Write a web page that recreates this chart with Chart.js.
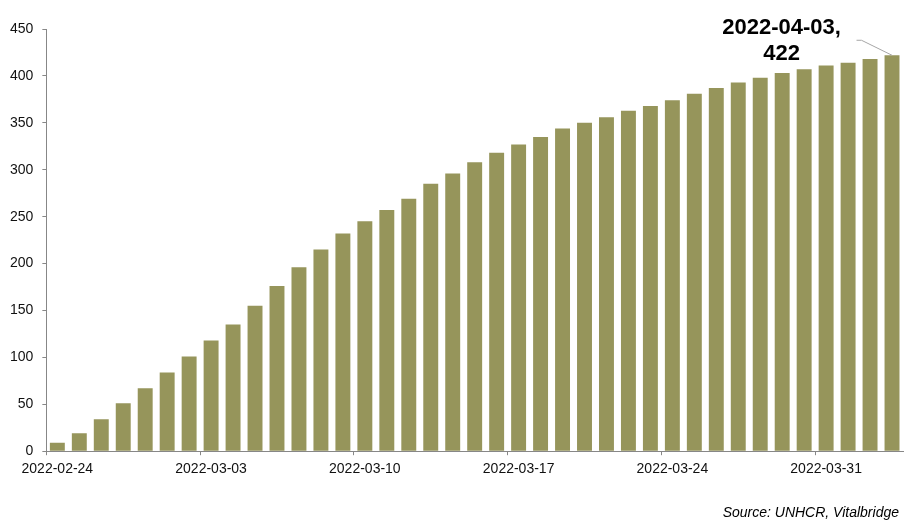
<!DOCTYPE html>
<html>
<head>
<meta charset="utf-8">
<script src="https://cdn.jsdelivr.net/npm/chart.js@4/dist/chart.umd.min.js"></script>
<style>
  html, body { margin: 0; padding: 0; background: #fff; }
  #wrap { width: 924px; height: 532px; position: relative; }
</style>
</head>
<body>
<div id="wrap"><canvas id="c" width="924" height="532"></canvas></div>
<script>
const categories = [
  '2022-02-24','2022-02-25','2022-02-26','2022-02-27','2022-02-28',
  '2022-03-01','2022-03-02','2022-03-03','2022-03-04','2022-03-05','2022-03-06','2022-03-07',
  '2022-03-08','2022-03-09','2022-03-10','2022-03-11','2022-03-12','2022-03-13','2022-03-14',
  '2022-03-15','2022-03-16','2022-03-17','2022-03-18','2022-03-19','2022-03-20','2022-03-21',
  '2022-03-22','2022-03-23','2022-03-24','2022-03-25','2022-03-26','2022-03-27','2022-03-28',
  '2022-03-29','2022-03-30','2022-03-31','2022-04-01','2022-04-02','2022-04-03'
];
const values = [
  9, 19, 34, 51, 67, 84, 101, 118, 135, 155, 176, 196, 215,
  232, 245, 257, 269, 285, 296, 308, 318, 327, 335, 344, 350, 356,
  363, 368, 374, 381, 387, 393, 398, 403, 407, 411, 414, 418, 422
];
const yTicks = [0, 50, 100, 150, 200, 250, 300, 350, 400, 450];
const sourceText = 'Source: UNHCR, Vitalbridge';
const labelEvery = 7;

const FONT = "'Liberation Sans', Arial, sans-serif";
const AXIS = '#878787';

const annotationPlugin = {
  id: 'lastLabel',
  afterDatasetsDraw(chart) {
    const meta = chart.getDatasetMeta(0);
    const last = meta.data[values.length - 1];
    const x = last.x, y = last.y;
    const ctx = chart.ctx;
    ctx.save();
    ctx.strokeStyle = '#a6a6a6';
    ctx.lineWidth = 1;
    ctx.beginPath();
    ctx.moveTo(x - 35.5, y - 15);
    ctx.lineTo(x - 30.5, y - 15);
    ctx.lineTo(x, y);
    ctx.stroke();
    ctx.fillStyle = '#000';
    ctx.font = "bold 22px " + FONT;
    ctx.textAlign = 'center';
    ctx.textBaseline = 'middle';
    const lab = categories[values.length - 1] + ',';
    ctx.fillText(lab, x - 110.5, y - 27);
    ctx.fillText(String(values[values.length - 1]), x - 110.5, y - 1);
    ctx.restore();
  },
  afterDraw(chart) {
    const ctx = chart.ctx;
    ctx.save();
    ctx.fillStyle = '#000';
    ctx.font = "italic 14px " + FONT;
    ctx.textAlign = 'right';
    ctx.textBaseline = 'middle';
    ctx.fillText(sourceText, 899, 513);
    ctx.restore();
  }
};

new Chart(document.getElementById('c'), {
  type: 'bar',
  data: {
    labels: categories,
    datasets: [{
      data: values,
      backgroundColor: '#96955B',
      borderWidth: 0,
      barPercentage: 0.68,
      categoryPercentage: 1.0
    }]
  },
  options: {
    responsive: false,
    animation: false,
    devicePixelRatio: 1,
    layout: { padding: { left: 1, right: 21, top: 29, bottom: 48 } },
    plugins: {
      legend: { display: false },
      tooltip: { enabled: false },
      title: { display: false }
    },
    scales: {
      x: {
        offset: true,
        grid: {
          offset: true,
          drawOnChartArea: false,
          drawTicks: true,
          tickLength: 4,
          color: (c) => (c.index !== undefined && c.index % labelEvery === 0) ? AXIS : 'rgba(0,0,0,0)'
        },
        border: { display: true, color: AXIS, width: 1 },
        ticks: {
          autoSkip: false,
          maxRotation: 0,
          minRotation: 0,
          padding: 6,
          color: '#111',
          font: { family: FONT, size: 14 },
          callback: (v, i) => (i % labelEvery === 0 ? categories[i] : '')
        }
      },
      y: {
        min: yTicks[0],
        max: yTicks[yTicks.length - 1],
        afterBuildTicks: (axis) => { axis.ticks = yTicks.map(v => ({ value: v })); },
        grid: {
          drawOnChartArea: false,
          drawTicks: true,
          tickLength: 4,
          color: AXIS
        },
        border: { display: true, color: AXIS, width: 1 },
        ticks: {
          padding: 9,
          color: '#111',
          font: { family: FONT, size: 14 }
        }
      }
    }
  },
  plugins: [annotationPlugin]
});
</script>
</body>
</html>
